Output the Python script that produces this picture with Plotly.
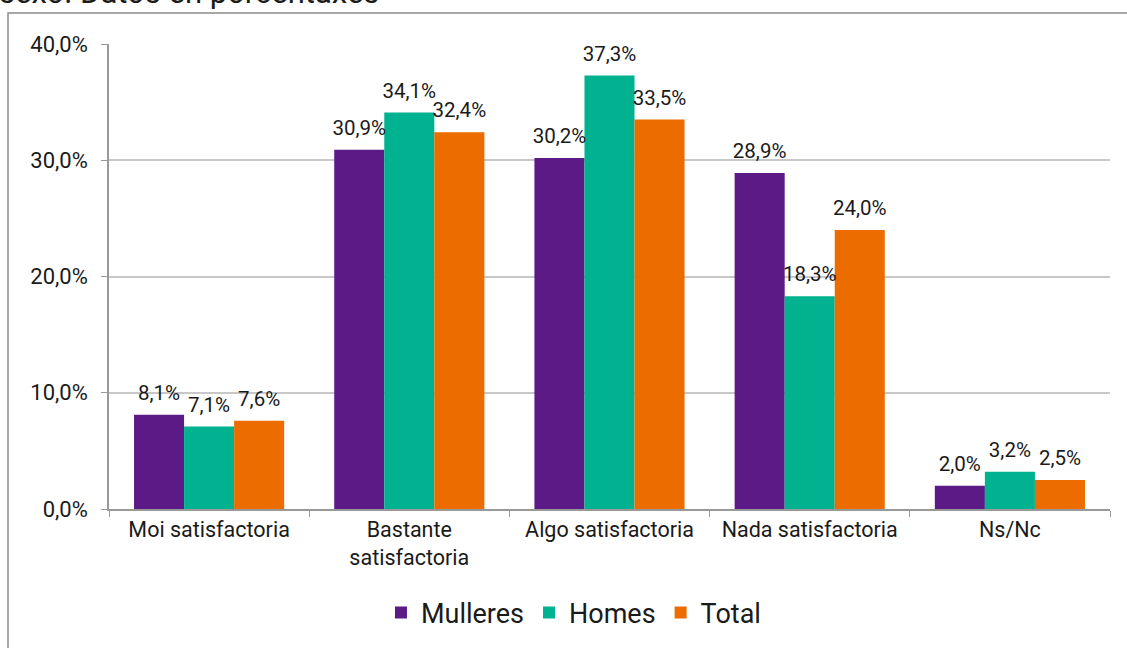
import plotly.graph_objects as go

# Data (percentages)
categorias = ["Moi satisfactoria", "Bastante<br>satisfactoria", "Algo satisfactoria",
              "Nada satisfactoria", "Ns/Nc"]
mulleres = [8.1, 30.9, 30.2, 28.9, 2.0]
homes = [7.1, 34.1, 37.3, 18.3, 3.2]
total = [7.6, 32.4, 33.5, 24.0, 2.5]

series = [("Mulleres", mulleres, "#5B1A86"),
          ("Homes", homes, "#00B28F"),
          ("Total", total, "#EC6C00")]

W, H = 1127, 648
L, R, T, B = 109, 17, 44, 138
pw, ph = W - L - R, H - T - B

fig = go.Figure()
for name, vals, col in series:
    fig.add_trace(go.Bar(
        x=categorias, y=vals, name=name,
        marker=dict(color=col, line=dict(width=0)),
        hovertemplate="%{x}: %{y:.1f}%<extra>" + name + "</extra>",
    ))
# value labels, grouped like the bars and lifted a little above them
for name, vals, col in series:
    fig.add_trace(go.Scatter(
        x=categorias, y=vals, mode="markers+text",
        marker=dict(size=14, color="rgba(0,0,0,0)"),
        text=[f"{v:.1f}%".replace(".", ",") for v in vals],
        textposition="top center",
        textfont=dict(size=20.5, color="#1a1a1a"),
        showlegend=False, hoverinfo="skip", cliponaxis=False,
    ))

fig.update_layout(
    width=W, height=H,
    margin=dict(l=L, r=R, t=T, b=B),
    paper_bgcolor="white", plot_bgcolor="white",
    font=dict(family="Roboto, sans-serif", color="#1a1a1a"),
    separators=",.",
    barmode="group", bargap=0.25, bargroupgap=0,
    scattermode="group", scattergap=0.25,
    showlegend=True,
    legend=dict(orientation="h", x=0.464, xanchor="center",
                y=(H - B - 613) / ph, yanchor="middle",
                font=dict(size=27), traceorder="normal"),
)

fig.update_xaxes(
    showline=True, linecolor="#999999", linewidth=1.5,
    ticks="outside", tickson="boundaries", ticklen=6, tickcolor="#999999",
    tickfont=dict(size=21.5), showgrid=False,
)
fig.update_yaxes(
    range=[0, 40], dtick=10, tickformat=".1f", ticksuffix="%",
    showline=True, linecolor="#999999", linewidth=1.5,
    ticks="outside", ticklen=6, tickcolor="#999999",
    gridcolor="#c8c8c8", gridwidth=1.5, zeroline=False,
    tickfont=dict(size=22), ticklabelstandoff=9,
)

# outer frame of the original picture
fig.add_shape(type="rect", xref="paper", yref="paper",
              x0=(8 - L) / pw, x1=1.05, y0=-0.35, y1=1 + (T - 13) / ph,
              line=dict(color="#8c8c8c", width=1.5), fillcolor="rgba(0,0,0,0)",
              layer="below")

# title, cut off by the top edge as in the source
fig.add_annotation(text="sexo. Datos en porcentaxes", xref="paper", yref="paper",
                   x=(-3 - L) / pw, xanchor="left",
                   y=1 + (T - 13) / ph, yanchor="bottom",
                   showarrow=False, font=dict(size=31, color="#1a1a1a"))

fig.write_html("out.html", config={"displayModeBar": False},
               post_script="document.body.style.margin='0';document.body.style.overflow='hidden';")
